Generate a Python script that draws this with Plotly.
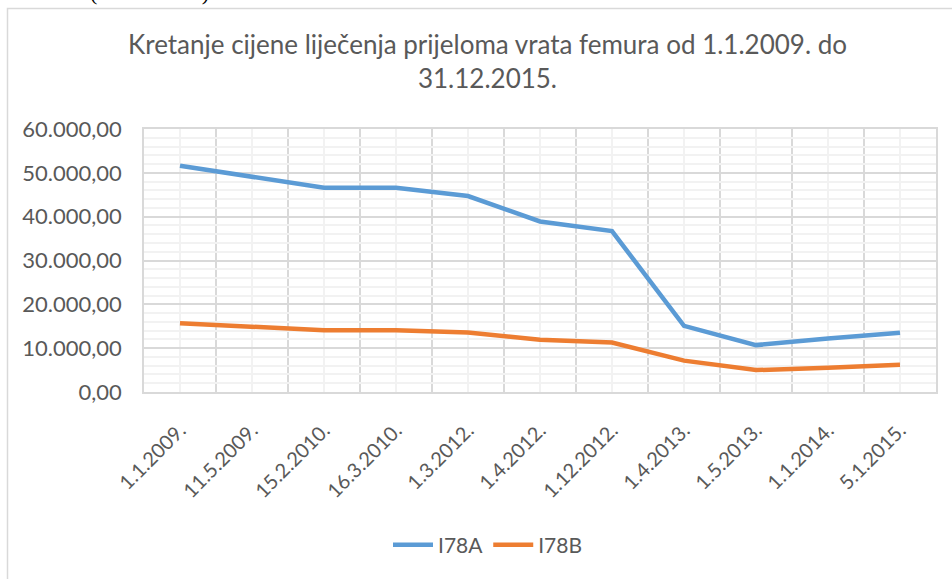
import plotly.graph_objects as go

categories = ["1.1.2009.", "11.5.2009.", "15.2.2010.", "16.3.2010.", "1.3.2012.", "1.4.2012.",
              "1.12.2012.", "1.4.2013.", "1.5.2013.", "1.1.2014.", "5.1.2015."]
i78a = [51600, 49000, 46600, 46600, 44700, 38900, 36700, 15100, 10700, 12200, 13500]
i78b = [15700, 14900, 14100, 14100, 13600, 11900, 11300, 7150, 5000, 5550, 6200]
series_names = ["I78A", "I78B"]
colors = ["#5B9BD5", "#ED7D31"]
title_text = "Kretanje cijene liječenja prijeloma vrata femura od 1.1.2009. do<br>31.12.2015."
above_text = "3.1.2015. (31.12.2015.)"

W, H = 952, 579
L, R, T, B = 144, 16, 129, 187
pw, ph = W - L - R, H - T - B

def px_x(p):
    return (p - L) / pw

def px_y(p):
    return (H - B - p) / ph

xs = list(range(len(categories)))
fig = go.Figure()
for name, vals, c in zip(series_names, [i78a, i78b], colors):
    fig.add_trace(go.Scatter(x=xs, y=vals, name=name, mode="lines",
                             line=dict(color=c, width=4.5, shape="linear"),
                             hoverinfo="x+y"))

font_fam = "Lato, 'Open Sans', sans-serif"
fig.update_layout(
    width=W, height=H,
    margin=dict(l=L, r=R, t=T, b=B, autoexpand=False),
    paper_bgcolor="white", plot_bgcolor="white",
    separators=",.",
    font=dict(family=font_fam, color="#595959", size=21),
    showlegend=True,
    legend=dict(orientation="h", x=px_x(488), xanchor="center", y=px_y(545), yanchor="middle",
                font=dict(size=21, color="#595959"), itemwidth=40, bgcolor="rgba(0,0,0,0)"),
    xaxis=dict(range=[-0.5, len(categories) - 0.5], tickmode="array", tickvals=xs, automargin=False,
               ticktext=categories, tickangle=-45, showgrid=True, gridcolor="#F2F2F2", gridwidth=1.5,
               zeroline=False, showline=True, linecolor="#D9D9D9", linewidth=1.5, mirror=True,
               ticks="", ticklabelstandoff=17, tickfont=dict(size=20, color="#595959"),
               minor=dict(tick0=-0.5, dtick=1, showgrid=True, gridcolor="#D9D9D9", gridwidth=1.5)),
    yaxis=dict(range=[0, 60000], dtick=10000, tickformat=",.2f", showgrid=True, automargin=False,
               gridcolor="#D9D9D9", gridwidth=1.5, zeroline=False, showline=True,
               linecolor="#D9D9D9", linewidth=1.5, mirror=True, ticks="",
               ticklabelstandoff=16, tickfont=dict(size=22, color="#595959"),
               minor=dict(dtick=2000, showgrid=True, gridcolor="#F2F2F2", gridwidth=1.5)),
)

fig.add_shape(type="rect", xref="paper", yref="paper",
              x0=px_x(7.5), x1=px_x(W + 20), y0=px_y(H + 20), y1=px_y(8.5),
              line=dict(color="#D9D9D9", width=1.5), fillcolor="rgba(0,0,0,0)", layer="below")

fig.add_annotation(text=title_text, xref="paper", yref="paper", x=px_x(487), xanchor="center",
                   y=px_y(61), yanchor="middle", showarrow=False, align="center",
                   font=dict(family=font_fam, size=26, color="#595959"))

fig.add_annotation(text=above_text, xref="paper", yref="paper", x=px_x(0), xanchor="left",
                   y=px_y(7), yanchor="bottom", showarrow=False,
                   font=dict(family="Liberation Serif, serif", size=22, color="#000000"))

fig.write_html("out.html", config={"displayModeBar": False},
               post_script="document.body.style.margin='0';")
